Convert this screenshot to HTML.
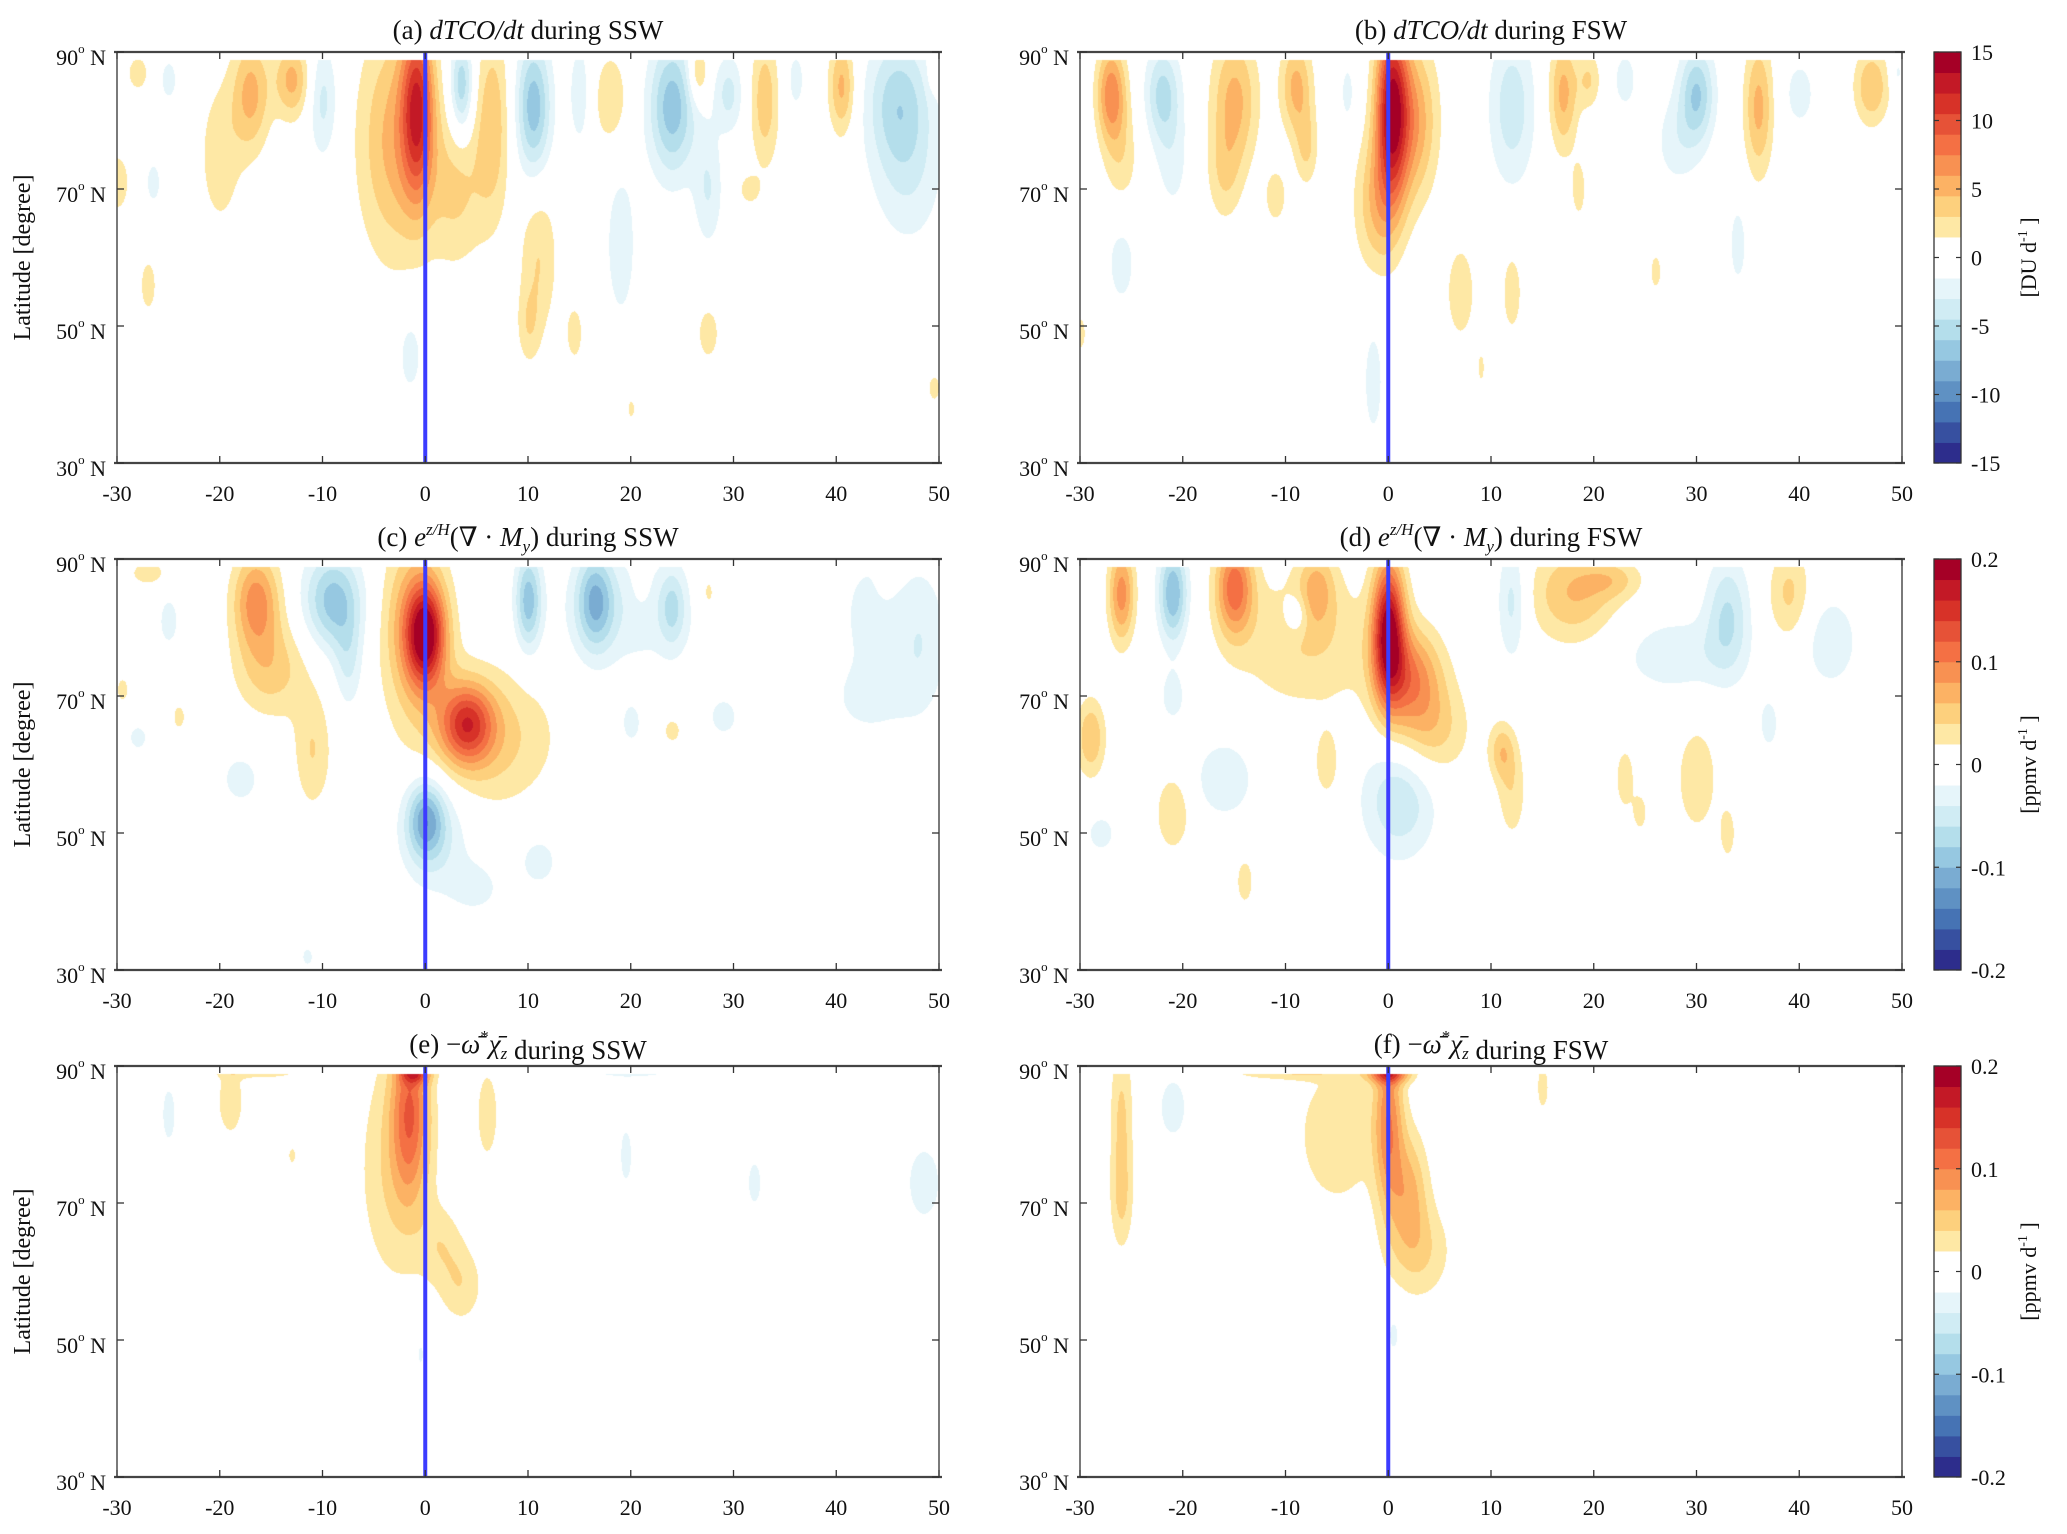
<!DOCTYPE html>
<html><head><meta charset="utf-8">
<style>
html,body{margin:0;padding:0;background:#fff;}
#root{position:relative;width:2067px;height:1534px;overflow:hidden;background:#fff;}
canvas{position:absolute;}
svg{position:absolute;left:0;top:0;}
text{font-family:"Liberation Serif","DejaVu Serif",serif;fill:#111;}
</style></head>
<body>
<div id="root">
<canvas id="cA" width="822" height="411" style="left:117px;top:52px"></canvas>
<canvas id="cB" width="822" height="411" style="left:1080px;top:52px"></canvas>
<canvas id="cC" width="822" height="411" style="left:117px;top:559px"></canvas>
<canvas id="cD" width="822" height="411" style="left:1080px;top:559px"></canvas>
<canvas id="cE" width="822" height="411" style="left:117px;top:1066px"></canvas>
<canvas id="cF" width="822" height="411" style="left:1080px;top:1066px"></canvas>
<svg id="ov" width="2067" height="1534"></svg>
</div>
<script>
// x-axis (days) and y-axis (latitude) tick labels
const xTicks = [-30,-20,-10,0,10,20,30,40,50];
const yTicks = [90,70,50,30];
const cbTicksDU = [15,10,5,0,-5,-10,-15];
const cbTicksPP = [0.2,0.1,0,-0.1,-0.2];
const cbLabelsPP = ["0.2","0.1","0","-0.1","-0.2"];
// blobs: [day, lat, sdDay, sdLat, amplitude]
const blobsA = [
[-0.8,82,1.1,9,10],[-3,77,2.5,12,5],[3,70,2,8,3.2],[6.5,80,1.2,10,4],[3.5,85,0.8,5,-6],
[-17,84,1.3,6,5],[-20,75,1.5,8,2.5],[-13,86,1.2,4,5],[-10,83,1,6,-3.5],[-25,86,0.8,3,-2],
[-28,87,0.8,2,2.5],[-30,71,0.8,3,3],[-26.5,71,0.7,3,-2],[10.5,82,1.2,7,-7],[11,60,1.3,8,3],
[10,50,0.8,4,2.2],[15,84,0.8,6,-2.5],[18,83,1.2,5,3],[24,82,1.6,7,-7],[19,62,1.3,10,-2.2],
[27.5,70,1,6,-3],[26.5,87,0.7,3,4],[29.5,84,1,4,-3.5],[33,83,1,7,4],[31.5,70,0.7,1.5,2.5],
[36,86,0.8,4,-2],[40.5,85,0.9,5,5],[46,83,2.2,7,-5],[47,72,2.5,8,-2.5],[49.5,87,0.5,2,2],
[27.5,49,0.8,3,2.5],[49.5,41,0.6,2,2],[14.5,49,0.8,4,2],[-27,56,0.6,3,2.5],[-1.5,46,1,5,-2.2],[20,38,0.4,1.5,2]];
const blobsB = [
[0.3,82,1.1,9,13],[2.5,80,1.6,8,5.5],[-1,68,1.6,7,4.5],[-27,84,1,5,7],[-26,74,1.2,6,2.5],
[-22,84,1.2,5,-5],[-21,74,1.2,6,-2],[-15,83,1.6,7,5],[-16,72,1.2,5,2.5],[-9,85,1.1,5,5],
[-8,76,0.8,4,3],[-11,69,0.8,3,2.5],[-26,60,1.2,6,-2.2],[-4,84,0.6,4,-2],[12,82,1.6,8,-4],
[17,84,1,6,5],[19.5,86,0.8,3,3],[18.5,70,0.5,3,2.5],[7,55,1,5,2.8],[12,55,0.8,5,2.3],
[9,44,0.3,2,2],[23,86,0.8,3,-2.5],[30,84,1.2,5,-6],[28,77,1.6,5,-2.2],[36,82,1,7,5],
[40,84,1.2,4,-2.2],[47,85,1.2,4,4.5],[49.5,87,0.5,2,-2],[34,62,0.7,5,-2.2],[-1.5,42,0.8,7,-2.2],
[-30,49,0.4,2,2.5],[26,58,0.4,2,2.5]];
const blobsC = [
[0,79,1.3,5,0.15],[-1,80,2.2,9,0.08],[4,66,1.8,4,0.12],[6,64,4.5,7,0.05],[-16.5,84,1.6,5,0.09],
[-15,74,2.5,5,0.05],[-11,62,1.3,6,0.04],[-27,88,1.5,1.5,0.03],[-29.5,71,0.5,1.5,0.03],[-24,67,0.5,1.5,0.03],
[-9,84,2,5,-0.09],[-7.5,75,1,5,-0.04],[0,52,1.3,4,-0.09],[1,50,2.5,6,-0.04],[11,46,1.5,3,-0.03],
[5,42,2,3,-0.025],[-18,58,2,4,-0.025],[-28,64,1,2,-0.025],[-25,81,0.8,3,-0.03],[10,84,0.9,5,-0.09],
[16.5,84,1.3,5,-0.09],[20,82,5,6,-0.03],[24,83,0.9,4,-0.05],[27.5,85,0.8,3,0.03],[21,87,0.5,2,0.03],
[24,65,0.7,1.5,0.03],[20,66,1,3,-0.025],[29,67,1.5,3,-0.025],[43,82,1.5,5,-0.035],[48,78,2,8,-0.04],
[43,70,2.5,4,-0.03],[44.5,88,0.5,2,0.03],[-11.5,32,0.6,1.5,-0.025]];
const blobsD = [
[0,80,1.1,7,0.18],[2,73,2.2,5,0.09],[4,65,2.6,5,0.05],[11,62,0.9,3,0.05],[12,56,1,5,0.035],
[-8,78,5,7,0.04],[-26,85,0.9,5,0.09],[-21,85,1,5,-0.1],[-15,86,1.3,5,0.11],[-7,86,1.3,4,0.055],
[-9,82,0.8,2,-0.04],[-29,64,1,4,0.06],[-21,70,1,3,-0.03],[-16,58,2,4,-0.04],[-21,53,1.2,4,0.04],
[-14,43,0.6,2.5,0.035],[-6,60,1,4,0.03],[1,55,2.5,6,-0.06],[-28,50,1.5,3,-0.025],[12,84,1,6,-0.05],
[18,85,3,5,0.06],[22,87,2,2,0.035],[23,58,0.8,4,0.03],[30,58,1.5,6,0.035],[33,50,0.6,3,0.03],
[24.5,53,0.5,2,0.03],[33,82,1.5,6,-0.06],[28,76,4,4,-0.035],[39,85,1.5,5,0.045],[43,78,2,5,-0.035],
[37,66,1,4,-0.025]];
const blobsE = [
[-1.5,84,1.3,9,0.1],[-3,75,2.5,12,0.04],[1.5,64,1.5,4,0.03],[3.5,58,1.5,4,0.035],[-1,89,1,1,0.08],[-19,85,1,4,0.035],
[-16,89,3,0.6,0.03],[6,83,0.8,5,0.035],[-13,77,0.3,1,0.03],[-25,83,0.8,5,-0.025],[19.5,77,0.7,5,-0.025],
[32,73,0.8,4,-0.025],[48.5,73,1.5,5,-0.03],[20,89,4,0.6,-0.025],[-0.5,48,0.4,2,-0.025]];
const blobsF = [
[0,82,1,9,0.09],[2,72,1.3,6,0.06],[3,63,2.2,5,0.04],[-5,80,3,8,0.035],[0,89,1.5,1,0.1],
[-26,82,0.8,9,0.045],[-26,70,0.8,5,0.03],[-21,84,1.2,4,-0.03],[-10,89,4,0.7,0.035],[15,87,0.5,3,0.03],[0.5,51,0.6,3,-0.025]];

const POS = ["#fee8a5","#fdd07d","#fcb264","#f89152","#f47044","#e65237","#d73228","#c31926","#a50026"];
const NEG = ["#e6f5fa","#d0ecf4","#b4deeb","#96c8e1","#7aacd2","#5f91c3","#4673b4","#3750a0","#2d2d8c"];
function hex(c){return [parseInt(c.substr(1,2),16),parseInt(c.substr(3,2),16),parseInt(c.substr(5,2),16)];}
const POSr=POS.map(hex), NEGr=NEG.map(hex);
const W=822,H=411;
const xScale=d=>(d+30)/80*W, yScale=l=>(90-l)/60*H;

function drawField(id,blobs,vmax){
  const cv=document.getElementById(id),ctx=cv.getContext('2d');
  const field=new Float32Array(W*H);
  blobs.forEach(b=>{
    const gx=new Float32Array(W),gy=new Float32Array(H);
    for(let px=0;px<W;px++){const d=-30+px/W*80;const t=(d-b[0])/b[2];gx[px]=t*t<36?Math.exp(-t*t/2):0;}
    for(let py=0;py<H;py++){const l=90-py/H*60;const t=(l-b[1])/b[3];gy[py]=t*t<36?Math.exp(-t*t/2):0;}
    for(let py=0;py<H;py++){const g=gy[py]*b[4];if(g===0)continue;const o=py*W;
      for(let px=0;px<W;px++){if(gx[px])field[o+px]+=g*gx[px];}}
  });
  const img=ctx.createImageData(W,H),dt=img.data,step=vmax/10;
  for(let py=0;py<H;py++){const l=90-py/H*60;
    for(let px=0;px<W;px++){const i=(py*W+px)*4;let c=[255,255,255];
      if(l<88.9){const v=field[py*W+px];let k=Math.floor(Math.abs(v)/step);
        if(k>=1){k=Math.min(9,k);c=v>0?POSr[k-1]:NEGr[k-1];}}
      dt[i]=c[0];dt[i+1]=c[1];dt[i+2]=c[2];dt[i+3]=255;}}
  ctx.putImageData(img,0,0);
}
drawField('cA',blobsA,15);drawField('cB',blobsB,15);
drawField('cC',blobsC,0.2);drawField('cD',blobsD,0.2);
drawField('cE',blobsE,0.2);drawField('cF',blobsF,0.2);

const ov=document.getElementById('ov');const NS='http://www.w3.org/2000/svg';
function el(tag,attrs,parent){const e=document.createElementNS(NS,tag);for(const k in attrs)e.setAttribute(k,attrs[k]);(parent||ov).appendChild(e);return e;}

const panels=[
 {x:117,y:52,t:'(a) ',m:'dTCO/dt',s:' during SSW',n:'a',left:true},
 {x:1080,y:52,t:'(b) ',m:'dTCO/dt',s:' during FSW',n:'b'},
 {x:117,y:559,t:'(c) ',n:'c',kind:'my',s:' during SSW',left:true},
 {x:1080,y:559,t:'(d) ',n:'d',kind:'my',s:' during FSW'},
 {x:117,y:1066,t:'(e) ',n:'e',kind:'om',s:' during SSW',left:true},
 {x:1080,y:1066,t:'(f) ',n:'f',kind:'om',s:' during FSW'}];
panels.forEach(p=>{
  const g=el('g',{});
  
  
  const bl=el('line',{x1:p.x+xScale(0),x2:p.x+xScale(0),y1:p.y,y2:p.y+H-1,stroke:'#3c3cff','stroke-width':4},g);
  
  
  el('line',{x1:p.x,x2:p.x,y1:p.y,y2:p.y+H,stroke:'#333','stroke-width':1.3},g);
  el('line',{x1:p.x+W,x2:p.x+W,y1:p.y,y2:p.y+H,stroke:'#333','stroke-width':1.3},g);
  el('line',{x1:p.x-3,x2:p.x+W+3,y1:p.y,y2:p.y,stroke:'#444','stroke-width':2.2},g);
  el('line',{x1:p.x-3,x2:p.x+W+3,y1:p.y+H,y2:p.y+H,stroke:'#444','stroke-width':2.2},g);
  xTicks.forEach(d=>{const x=p.x+xScale(d);
    el('line',{x1:x,x2:x,y1:p.y,y2:p.y+7,stroke:'#333','stroke-width':1.3},g);
    el('line',{x1:x,x2:x,y1:p.y+H,y2:p.y+H-7,stroke:'#333','stroke-width':1.3},g);
    const t=el('text',{x:x,y:p.y+H+38,'font-size':22,'text-anchor':'middle'},g);t.textContent=String(d);
    
    
  });
  yTicks.forEach(l=>{const y=p.y+yScale(l);
    el('line',{x1:p.x,x2:p.x+7,y1:y,y2:y,stroke:'#333','stroke-width':1.3},g);
    el('line',{x1:p.x+W,x2:p.x+W-7,y1:y,y2:y,stroke:'#333','stroke-width':1.3},g);
    const t=el('text',{x:p.x-11,y:y+13,'font-size':22,'text-anchor':'end'},g);
    
    
    el('tspan',{},t).textContent=String(l);
    el('tspan',{'font-size':13,dy:-12},t).textContent='o';
    el('tspan',{dy:12},t).textContent=' N';
  });
  const tt=el('text',{x:p.x+W/2,y:p.y-13,'font-size':27,'text-anchor':'middle'},g);
  
  
  el('tspan',{},tt).textContent=p.t;
  if(!p.kind){el('tspan',{'font-style':'italic'},tt).textContent=p.m;}
  else if(p.kind==='my'){
    el('tspan',{'font-style':'italic'},tt).textContent='e';
    el('tspan',{'font-style':'italic','font-size':17,dy:-11},tt).textContent='z/H';
    el('tspan',{dy:11},tt).textContent='(∇ · ';
    el('tspan',{'font-style':'italic'},tt).textContent='M';
    el('tspan',{'font-style':'italic','font-size':17,dy:6},tt).textContent='y';
    el('tspan',{dy:-6},tt).textContent=')';
  } else {
    el('tspan',{},tt).textContent='−';
    el('tspan',{'font-style':'italic'},tt).textContent='ω̄';
    el('tspan',{'font-size':17,dy:-11},tt).textContent='*';
    el('tspan',{'font-style':'italic',dy:11},tt).textContent='χ̄';
    el('tspan',{'font-style':'italic','font-size':17,dy:6},tt).textContent='z';
    el('tspan',{dy:-6},tt).textContent='';
  }
  el('tspan',{},tt).textContent=p.s;
  if(p.left){const yl=el('text',{x:0,y:0,'font-size':24,'text-anchor':'middle',transform:'translate(30,'+(p.y+H/2)+') rotate(-90)'},g);
    yl.textContent='Latitude [degree]';
    
    }
});

const cbs=[{y:52,ticks:cbTicksDU,labels:cbTicksDU.map(String),vmax:15,unit:'DU'},
           {y:559,ticks:cbTicksPP,labels:cbLabelsPP,vmax:0.2,unit:'ppmv'},
           {y:1066,ticks:cbTicksPP,labels:cbLabelsPP,vmax:0.2,unit:'ppmv'}];
cbs.forEach((c,ci)=>{
  const g=el('g',{});
  
  
  const x0=1934,w=27,h=H,step=c.vmax/10;
  const cy=v=>c.y+(c.vmax-v)/(2*c.vmax)*h;
  for(let k=-10;k<10;k++){
    const lo=k*step,hi=(k+1)*step;let col='#ffffff';
    if(k>=1)col=POS[k-1];else if(k<=-2)col=NEG[-k-2];
    el('rect',{x:x0,y:cy(hi),width:w,height:cy(lo)-cy(hi)+0.5,fill:col},g);
  }
  el('rect',{x:x0,y:c.y,width:w,height:h,fill:'none',stroke:'#333','stroke-width':1.3},g);
  c.ticks.forEach((v,i)=>{const y=cy(v);
    el('line',{x1:x0+w-5,x2:x0+w,y1:y,y2:y,stroke:'#333','stroke-width':1.2},g);
    el('line',{x1:x0,x2:x0+5,y1:y,y2:y,stroke:'#333','stroke-width':1.2},g);
    const t=el('text',{x:x0+w+10,y:y+8,'font-size':22},g);t.textContent=c.labels[i];
    
    
  });
  const ul=el('text',{x:0,y:0,'font-size':22,'text-anchor':'middle',transform:'translate(2036,'+(c.y+h/2)+') rotate(-90)'},g);
  
  
  el('tspan',{},ul).textContent='['+c.unit+' d';
  el('tspan',{'font-size':14,dy:-9},ul).textContent='-1';
  el('tspan',{dy:9},ul).textContent=' ]';
});
</script>
</body></html>
